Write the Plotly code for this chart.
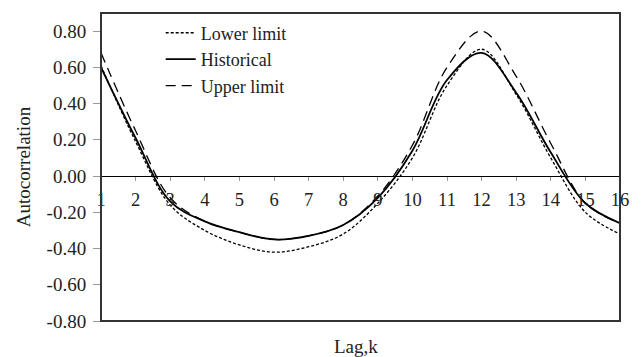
import plotly.graph_objects as go

lags = list(range(1, 17))
lower = [0.61, 0.19, -0.16, -0.30, -0.38, -0.42, -0.39, -0.32, -0.15, 0.10, 0.50, 0.70, 0.45, 0.10, -0.20, -0.32]
historical = [0.60, 0.21, -0.14, -0.25, -0.31, -0.35, -0.33, -0.27, -0.12, 0.14, 0.53, 0.68, 0.46, 0.13, -0.15, -0.26]
upper = [0.68, 0.25, -0.12, -0.25, -0.31, -0.35, -0.33, -0.27, -0.11, 0.17, 0.60, 0.80, 0.55, 0.18, -0.15, -0.26]
ytick_vals = [-0.8, -0.6, -0.4, -0.2, 0.0, 0.2, 0.4, 0.6, 0.8]
ytick_text = ["-0.80", "-0.60", "-0.40", "-0.20", "0.00", "0.20", "0.40", "0.60", "0.80"]

FONT = "Liberation Serif"
y_min, y_max = -0.8, 0.9

fig = go.Figure()
fig.add_trace(go.Scatter(x=lags, y=lower, mode="lines", name="Lower limit",
                         line=dict(color="black", width=1.3, dash="3px,2px", shape="spline")))
fig.add_trace(go.Scatter(x=lags, y=historical, mode="lines", name="Historical",
                         line=dict(color="black", width=1.8, shape="spline")))
fig.add_trace(go.Scatter(x=lags, y=upper, mode="lines", name="Upper limit",
                         line=dict(color="black", width=1.3, dash="10px,6px", shape="spline")))

zero_pos = (0 - y_min) / (y_max - y_min)

fig.update_layout(
    width=641, height=357,
    margin=dict(l=101, r=19, t=13, b=36),
    paper_bgcolor="white", plot_bgcolor="white",
    font=dict(family=FONT, size=18, color="#222"),
    showlegend=True,
    legend=dict(x=0.115, y=0.995, xanchor="left", yanchor="top",
                bgcolor="rgba(0,0,0,0)", font=dict(family=FONT, size=18, color="#222")),
    xaxis=dict(range=[1, 16], tickvals=lags, ticktext=[str(v) for v in lags],
               anchor="free", position=zero_pos,
               showline=True, linecolor="black", linewidth=1.2,
               ticks="outside", ticklen=4, tickcolor="#999", tickwidth=1,
               showgrid=False, zeroline=False, ticklabelstandoff=3,
               tickfont=dict(family=FONT, size=18.5, color="#222")),
    yaxis=dict(range=[y_min, y_max], tickvals=ytick_vals, ticktext=ytick_text,
               showline=False, ticks="outside", ticklen=7, tickcolor="#999",
               showgrid=False, zeroline=False, ticklabelstandoff=3,
               tickfont=dict(family=FONT, size=19, color="#222")),
    shapes=[dict(type="rect", xref="paper", yref="paper", x0=0, x1=1, y0=0, y1=1,
                 line=dict(color="#333", width=2), layer="above")],
    annotations=[
        dict(text="Lag,k", xref="paper", yref="paper", x=0.492, y=-0.084,
             xanchor="center", yanchor="middle", showarrow=False,
             font=dict(family=FONT, size=19, color="#222")),
        dict(text="Autocorrelation", xref="paper", yref="paper", x=-0.15, y=0.5,
             xanchor="center", yanchor="middle", showarrow=False, textangle=-90,
             font=dict(family=FONT, size=19, color="#222")),
    ],
)

fig.write_html("out.html")
